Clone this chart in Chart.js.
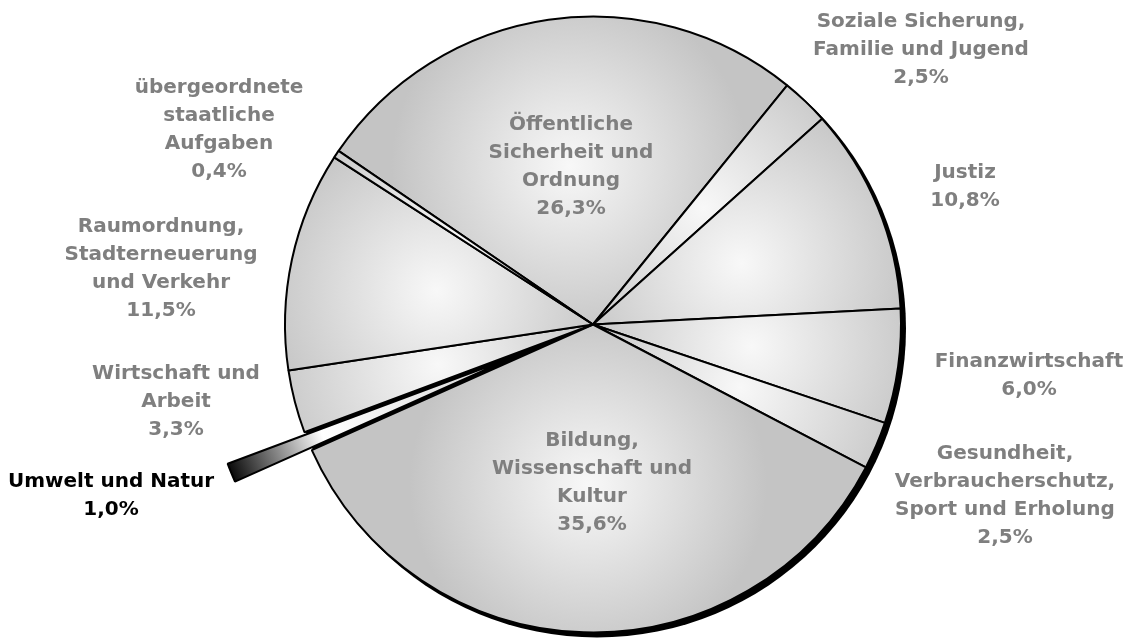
<!DOCTYPE html>
<html>
<head>
<meta charset="utf-8">
<title>Ausgaben nach Aufgabenbereichen</title>
<script src="https://cdn.jsdelivr.net/npm/chart.js@4/dist/chart.umd.min.js"></script>
<style>
	html, body { margin: 0; padding: 0; background: #fff; }
	#wrap { width: 1129px; height: 638px; }
</style>
</head>
<body>
<div id="wrap"><canvas id="pie" width="1129" height="638"></canvas></div>
<script>
// slices, clockwise from the top-left
const categories = [
	['Öffentliche', 'Sicherheit und', 'Ordnung'],
	['Soziale Sicherung,', 'Familie und Jugend'],
	['Justiz'],
	['Finanzwirtschaft'],
	['Gesundheit,', 'Verbraucherschutz,', 'Sport und Erholung'],
	['Bildung,', 'Wissenschaft und', 'Kultur'],
	['Umwelt und Natur'],
	['Wirtschaft und', 'Arbeit'],
	['Raumordnung,', 'Stadterneuerung', 'und Verkehr'],
	['übergeordnete', 'staatliche', 'Aufgaben']
]
const shares = [26.3, 2.5, 10.8, 6.0, 2.5, 35.6, 1.0, 3.3, 11.5, 0.4]

// layout bits (not data)
const explode = [0, 0, 0, 0, 0, 0, 83, 0, 0, 0]   // px a slice is pulled out
const labelAt = [[571, 167], [921, 50], [965, 187], [1029, 376], [1005, 496],
	[592, 483], [111, 496], [176, 402], [161, 269], [219, 130]]
const labelColor = ['#7f7f7f', '#7f7f7f', '#7f7f7f', '#7f7f7f', '#7f7f7f',
	'#7f7f7f', '#000000', '#7f7f7f', '#7f7f7f', '#7f7f7f']
const RADIUS = 308
const ROTATION = -55.7
const LINE_H = 28

const pct = v => v.toFixed(1).replace('.', ',') + '%'

// where a slice sits: pie centre, its own origin (after pulling out) and middle angle
function sliceGeom(chart, i) {
	const a = chart.chartArea
	const cx = (a.left + a.right) / 2, cy = (a.top + a.bottom) / 2
	const total = shares.reduce((s, v) => s + v, 0)
	let before = 0
	for (let k = 0; k < i; k++) before += shares[k]
	const mid = (ROTATION + (before + shares[i] / 2) / total * 360 - 90) * Math.PI / 180
	return {
		cx, cy, mid,
		ox: cx + Math.cos(mid) * explode[i],
		oy: cy + Math.sin(mid) * explode[i]
	}
}

function sliceFill(ctx) {
	const chart = ctx.chart
	if (!chart.chartArea) return '#c8c8c8'
	const i = ctx.dataIndex
	const g = sliceGeom(chart, i)
	const c = chart.ctx
	const dx = Math.cos(g.mid), dy = Math.sin(g.mid)
	if (explode[i]) {
		const lg = c.createLinearGradient(g.ox + dx * RADIUS, g.oy + dy * RADIUS, g.ox, g.oy)
		lg.addColorStop(0, '#0a0a0a')
		lg.addColorStop(0.32, '#ffffff')
		lg.addColorStop(1, '#d4d4d4')
		return lg
	}
	const px = g.ox + dx * RADIUS * 0.52, py = g.oy + dy * RADIUS * 0.52
	const rg = c.createRadialGradient(px, py, 0, px, py, RADIUS * 0.58)
	rg.addColorStop(0, '#f8f8f8')
	rg.addColorStop(1, '#c4c4c4')
	return rg
}

// dark rim on the lower right, drawn under the slices
const rimShadow = {
	id: 'rimShadow',
	beforeDatasetsDraw(chart) {
		const g = sliceGeom(chart, 0)
		const c = chart.ctx
		c.save()
		c.fillStyle = '#000'
		c.beginPath()
		c.arc(g.cx + 4, g.cy + 4, RADIUS + 1, 0, Math.PI * 2)
		c.fill()
		c.restore()
	}
}

// move pulled-out slices off the centre, keeping their radius
const pullOut = {
	id: 'pullOut',
	beforeDatasetsDraw(chart) {
		chart.getDatasetMeta(0).data.forEach((arc, i) => {
			if (!explode[i]) return
			const g = sliceGeom(chart, i)
			arc.x = g.ox
			arc.y = g.oy
		})
	}
}

const sliceLabels = {
	id: 'sliceLabels',
	afterDatasetsDraw(chart) {
		const c = chart.ctx
		c.save()
		c.font = 'bold 20px "DejaVu Sans", Verdana, sans-serif'
		c.textAlign = 'center'
		c.textBaseline = 'middle'
		categories.forEach((name, i) => {
			const lines = name.concat([pct(shares[i])])
			const [x, y] = labelAt[i]
			const top = y - (lines.length - 1) * LINE_H / 2
			c.fillStyle = labelColor[i]
			lines.forEach((t, k) => c.fillText(t, x, top + k * LINE_H))
		})
		c.restore()
	}
}

new Chart(document.getElementById('pie'), {
	type: 'pie',
	data: {
		labels: categories,
		datasets: [{
			data: shares,
			backgroundColor: sliceFill,
			borderColor: '#000',
			borderWidth: 2
		}]
	},
	options: {
		responsive: false,
		animation: false,
		events: [],
		devicePixelRatio: 1,
		rotation: ROTATION,
		radius: RADIUS,
		layout: { padding: { left: 57, top: 11 } },
		plugins: {
			legend: { display: false },
			tooltip: { enabled: false }
		}
	},
	plugins: [rimShadow, pullOut, sliceLabels]
})
</script>
</body>
</html>
